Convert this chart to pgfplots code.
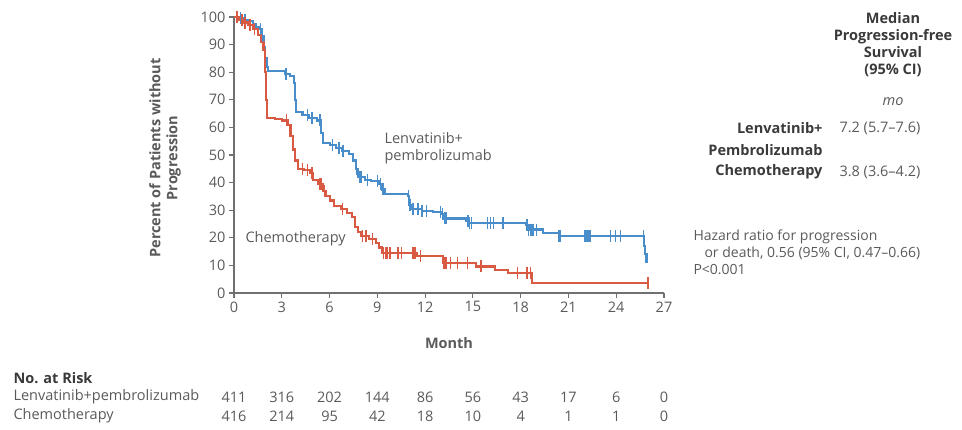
\documentclass[border=0pt]{standalone}
\usepackage{pgfplots}
\pgfplotsset{compat=1.18}
\usepackage{fontspec}
\setmainfont{Open Sans}
\definecolor{kmblue}{HTML}{4A8DCB}
\definecolor{kmred}{HTML}{D85A42}
\definecolor{txt}{HTML}{5A5A5A}
\definecolor{txtb}{HTML}{3A3A3A}
\definecolor{axc}{HTML}{707070}
\newcommand{\fs}{\fontsize{14.5}{17}\selectfont}
\begin{document}
\begin{tikzpicture}
\useasboundingbox (0pt,0pt) rectangle (962pt,430pt);
\begin{axis}[
  at={(234pt,137pt)}, anchor=south west,
  scale only axis, width=430pt, height=276pt,
  xmin=0, xmax=27, ymin=0, ymax=100,
  axis lines*=left,
  axis line style={axc, line width=1.2pt},
  xtick={0,3,...,27}, ytick={0,10,...,100},
  tick align=outside, major tick length=5pt,
  tick style={axc, line width=1.2pt},
  ticklabel style={font=\fs, text=txt},
  /pgf/number format/assume math mode=true,
  clip=false,
]
% Lenvatinib + pembrolizumab
\addplot[const plot, kmblue, line width=2.1pt] coordinates {
(0,100) (0.3,99.5) (0.6,99) (0.9,98.5) (1.2,97.5) (1.4,96.5) (1.6,95.5)
(1.75,93) (1.85,89) (1.95,85) (2.05,82) (2.15,80.5) (3.2,79.5) (3.5,78.5)
(3.75,76) (3.85,70) (3.9,65.5) (4.3,64.5) (4.7,63.5) (5.2,62.5) (5.45,58)
(5.6,54.5) (6.0,53.5) (6.4,52.5) (6.8,51.5) (7.2,50.5) (7.5,48) (7.65,45)
(7.8,42) (8.2,41) (8.6,40.5) (9.1,39.5) (9.3,37.5) (9.5,36) (10.9,35)
(11.0,32) (11.15,30.5) (11.8,29.8) (12.5,29.2) (13.0,28.5) (13.15,27)
(14.6,26) (14.75,25.4) (18.35,24.5) (18.5,23) (19.4,21.7) (20.4,20.6)
(25.75,17) (25.8,14) (25.9,12) (25.9,11)
};
\addplot[only marks, mark=|, mark size=6pt, kmblue, mark options={line width=1.4pt}] coordinates {
(0.4,99.5) (0.7,99) (1.65,95.5) (1.8,93) (3.25,79.5) (3.3,79.5) (4.6,64.5)
(4.9,63.5) (5.4,62.5) (6.2,53.5) (6.6,52.5) (6.85,51.5) (7.7,45) (7.9,42)
(8.0,42) (8.4,41) (9.0,40.5) (9.2,39.5) (9.35,37.5) (9.4,37.5) (10.95,35)
(11.05,32) (11.1,32) (11.2,30.5) (11.25,30.5) (11.55,30.5) (11.8,29.8)
(12.1,29.8) (12.95,29.2) (13.1,28.5) (13.2,27) (13.3,27) (14.7,26)
(14.8,25.4) (14.9,25.4) (15.9,25.4) (16.1,25.4) (16.3,25.4) (16.9,25.4)
(18.4,24.5) (18.5,23) (18.6,23) (18.7,23) (18.8,23) (19.0,23) (20.4,20.6)
(20.5,20.6) (22.0,20.6) (22.1,20.6) (22.2,20.6) (22.3,20.6) (22.4,20.6)
(23.65,20.6) (23.95,20.6) (24.25,20.6) (25.7,20.6)
};
% Chemotherapy
\addplot[const plot, kmred, line width=2.1pt] coordinates {
(0,100) (0.3,99) (0.6,98) (0.9,97) (1.2,95.5) (1.5,93.5) (1.7,91) (1.85,88)
(1.95,80) (2.0,70) (2.05,63.5) (2.6,63) (3.0,62.5) (3.4,61) (3.55,57)
(3.7,52) (3.85,48) (4.0,45) (4.4,44.5) (4.8,43.5) (4.95,41) (5.3,39.5)
(5.6,37) (5.8,35) (6.0,33.5) (6.3,31.5) (6.7,30.5) (7.1,29) (7.4,27.5)
(7.6,24) (7.8,22) (8.0,20.5) (8.5,19.5) (8.9,18) (9.1,16.5) (9.3,14.5)
(11.5,13.3) (13.1,11) (15.2,9.6) (16.4,8.4) (17.2,7.3) (18.7,3.6) (26.0,3.6)
};
\addplot[only marks, mark=|, mark size=6pt, kmred, mark options={line width=1.4pt}] coordinates {
(0.2,100) (0.5,99) (0.7,98) (1.0,97) (1.3,95.5) (3.3,62.5) (4.3,45)
(4.6,44.5) (4.9,43.5) (5.4,39.5) (5.5,39.5) (5.7,37) (6.8,30.5) (8.05,20.5)
(8.3,20.5) (8.7,19.5) (9.4,14.5) (9.5,14.5) (9.6,14.5) (9.8,14.5) (10.3,14.5)
(10.5,14.5) (11.2,14.5) (11.3,14.5) (11.4,14.5) (11.7,13.3) (13.15,11)
(13.2,11) (13.3,11) (13.6,11) (14.05,11) (14.65,11) (15.5,9.6) (17.8,7.3)
(18.4,7.3) (18.6,7.3) (26.0,3.6)
};
\end{axis}
% axis labels
\node[rotate=90, align=center, font=\fs\bfseries, text=txt] at (165pt,272pt)
  {Percent of Patients without\\Progression};
\node[font=\fs\bfseries, text=txt] at (449pt,87pt) {Month};
% curve labels
\node[anchor=west, align=left, font=\fs, text=txt] at (381pt,282pt)
  {Lenvatinib+\\pembrolizumab};
\node[anchor=west, font=\fs, text=txt] at (242pt,191pt) {Chemotherapy};
% right block
\node[align=center, font=\fs\bfseries, text=txtb, anchor=north] at (893pt,421pt)
  {Median\\Progression-free\\Survival\\(95\% CI)};
\node[font=\fs\itshape, text=txt] at (893pt,328pt) {mo};
\node[anchor=east, font=\fs\bfseries, text=txtb] at (826pt,302pt) {Lenvatinib+};
\node[anchor=east, font=\fs\bfseries, text=txtb] at (826pt,280pt) {Pembrolizumab};
\node[anchor=east, font=\fs\bfseries, text=txtb] at (826pt,258pt) {Chemotherapy};
\node[anchor=west, font=\fs, text=txt] at (836pt,302pt) {7.2 (5.7–7.6)};
\node[anchor=west, font=\fs, text=txt] at (836pt,258pt) {3.8 (3.6–4.2)};
\node[anchor=west, font=\fontsize{14}{16}\selectfont, text=txt] at (690pt,193pt) {Hazard ratio for progression};
\node[anchor=west, font=\fontsize{14}{16}\selectfont, text=txt] at (701pt,177pt) {or death, 0.56 (95\% CI, 0.47–0.66)};
\node[anchor=west, font=\fontsize{14}{16}\selectfont, text=txt] at (690pt,160pt) {P<0.001};
% risk table
\node[anchor=west, font=\fs\bfseries, text=txtb] at (10pt,52pt) {No. at Risk};
\node[anchor=west, font=\fs, text=txt] at (10pt,33pt) {Lenvatinib+pembrolizumab};
\node[anchor=west, font=\fs, text=txt] at (10pt,14pt) {Chemotherapy};
\foreach \v [count=\i from 0] in {411,316,202,144,86,56,43,17,6,0}
  \node[font=\fs, text=txt] at ({(234+47.78*\i)*1pt},33pt) {\v};
\foreach \v [count=\i from 0] in {416,214,95,42,18,10,4,1,1,0}
  \node[font=\fs, text=txt] at ({(234+47.78*\i)*1pt},14pt) {\v};
\end{tikzpicture}
\end{document}
